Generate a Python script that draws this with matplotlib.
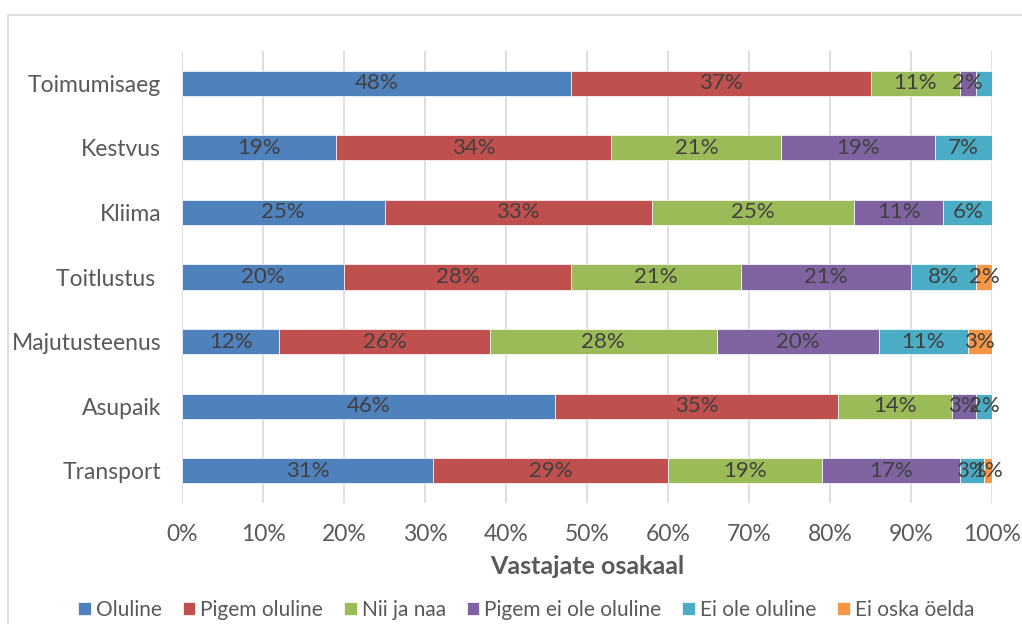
import numpy as np
import matplotlib.pyplot as plt
from matplotlib.patches import Rectangle

# categories, top to bottom
categories = ["Toimumisaeg", "Kestvus", "Kliima", "Toitlustus ", "Majutusteenus", "Asupaik", "Transport"]
series = ["Oluline", "Pigem oluline", "Nii ja naa", "Pigem ei ole oluline", "Ei ole oluline", "Ei oska öelda"]

oluline        = [48, 19, 25, 20, 12, 46, 31]
pigem_oluline  = [37, 34, 33, 28, 26, 35, 29]
nii_ja_naa     = [11, 21, 25, 21, 28, 14, 19]
pigem_ei_ole   = [2, 19, 11, 21, 20, 3, 17]
ei_ole         = [2, 7, 6, 8, 11, 2, 3]
ei_oska        = [0, 0, 0, 2, 3, 0, 1]
# segments without a visible data label in the source
hide_label = {(4, 0)}

values = [oluline, pigem_oluline, nii_ja_naa, pigem_ei_ole, ei_ole, ei_oska]
colors = ["#4F81BD", "#C0504D", "#9BBB59", "#8064A2", "#4BACC6", "#F79646"]

plt.rcParams['font.family'] = ['Lato', 'DejaVu Sans']

fig = plt.figure(figsize=(10.22, 6.24), dpi=100)
ax = fig.add_axes([182/1022, 1 - 503/624, 810/1022, 452/624])

# chart border
fig.patches.append(Rectangle((8/1022, -0.1), 1.2, 1 - 15/624 + 0.1, transform=fig.transFigure,
                             fill=False, edgecolor="#D9D9D9", linewidth=1.2))

y = np.arange(len(categories))
left = np.zeros(len(categories))
for s, (name, vals, col) in enumerate(zip(series, values, colors)):
    vals = np.array(vals, dtype=float)
    ax.barh(y, vals / 100, left=left / 100, height=0.39, color=col, label=name, zorder=3,
            edgecolor="white", linewidth=0.5)
    for i, v in enumerate(vals):
        if v > 0 and (s, i) not in hide_label:
            ax.text((left[i] + v / 2) / 100, y[i], f"{int(v)}%", ha="center", va="center",
                    color="#404040", fontsize=16, zorder=4)
    left += vals

ax.set_ylim(len(categories) - 0.5, -0.5)
ax.set_xlim(0, 1)
ax.set_yticks(y)
ax.set_yticklabels(categories, fontsize=16.5, color="#595959")
ax.set_xticks(np.linspace(0, 1, 11))
ax.set_xticklabels([f"{p}%" for p in range(0, 101, 10)], fontsize=16.5, color="#595959")
ax.tick_params(length=0)
ax.tick_params(axis="x", pad=15)
ax.tick_params(axis="y", pad=15)
ax.grid(axis="x", color="#D9D9D9", linewidth=1.2, zorder=0)
for sp in ax.spines.values():
    sp.set_visible(False)

ax.set_xlabel("Vastajate osakaal", fontsize=18, fontweight="bold", color="#595959", labelpad=7)

fig.legend(loc="center", bbox_to_anchor=(0.515, 1 - 610/624), ncol=6, frameon=False,
           fontsize=15, handlelength=0.6, handleheight=0.6, handletextpad=0.25,
           columnspacing=1.0, labelcolor="#595959")

fig.savefig("out.png", dpi=100)
